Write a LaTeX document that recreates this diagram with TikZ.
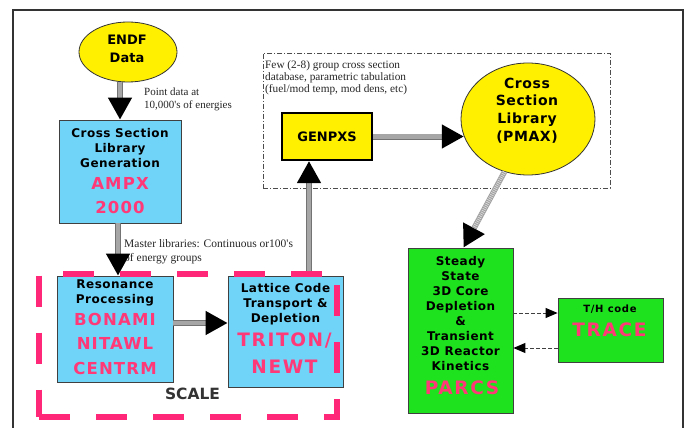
\documentclass[tikz,border=0pt]{standalone}
\usepackage{fontspec}
\setmainfont{DejaVu Sans}
\newfontfamily\boxfont{DejaVu Sans}[LetterSpace=4]
\newfontfamily\pinkfont{DejaVu Sans}[LetterSpace=7]
\newfontfamily\pinkbigfont{DejaVu Sans}[LetterSpace=9]
\newfontfamily\serifont{Liberation Serif}
\usetikzlibrary{arrows.meta,shapes.geometric}
\definecolor{boxblue}{RGB}{112,212,248}
\definecolor{pinktxt}{RGB}{255,56,120}
\definecolor{pinkline}{RGB}{255,40,120}
\definecolor{boxgreen}{RGB}{30,226,30}
\definecolor{ellyellow}{RGB}{255,240,0}
\begin{document}
\begin{tikzpicture}[x=1pt,y=-1pt,
  bbox/.style={draw=black!75, line width=0.8pt, fill=boxblue, inner sep=0pt},
  gbox/.style={draw=black!75, line width=0.8pt, fill=boxgreen, inner sep=0pt},
  yell/.style={ellipse, draw=black!80, line width=0.8pt, fill=ellyellow, inner sep=0pt},
  blacktxt/.style={font=\boxfont\bfseries\fontsize{12}{15}\selectfont, align=center, inner sep=0pt, anchor=north},
  pinkblk/.style={font=\pinkfont\bfseries\fontsize{16.5}{24.3}\selectfont, text=pinktxt, align=center, inner sep=0pt, anchor=north},
  pinkbig/.style={font=\pinkbigfont\bfseries\fontsize{18.5}{27}\selectfont, text=pinktxt, align=center, inner sep=0pt, anchor=north},
  lbl/.style={font=\serifont\fontsize{11}{13}\selectfont, align=left, inner sep=0pt, anchor=north west, text=black!85},
  bigarrow/.style={line width=4.5pt, draw=gray!70,
     preaction={draw=black!55, line width=6pt, shorten >=14pt, arrows=-},
     -{Triangle[length=22pt,width=23pt,color=black]}},
  hatcharrow/.style={line width=5.5pt, draw=gray!75,
     postaction={draw=white!70!gray, line width=4pt, dash pattern=on 0.8pt off 1.2pt, shorten >=22pt, arrows=-},
     -{Triangle[length=22pt,width=23pt,color=black]}},
  dasharrow/.style={line width=0.9pt, draw=black!75, dash pattern=on 3.5pt off 2.5pt,
     -{Triangle[length=12pt,width=10pt,color=black]}}
]
\useasboundingbox (0,0) rectangle (691,428);
\fill[white] (0,0) rectangle (691,428);
% outer frame
\draw[line width=1.2pt, draw=black!80] (13,430) -- (13,10) -- (683,10) -- (683,430);

% dash-dot region
\node[draw=black!70, line width=0.8pt, dash pattern=on 5pt off 2pt on 1pt off 2pt,
      minimum width=347pt, minimum height=135pt, inner sep=0pt] (db) at (436.5,120.5) {};
\node[lbl, font=\serifont\fontsize{11.3}{12}\selectfont] (few) at (265,60.5)
  {Few (2-8) group cross section\\database, parametric tabulation\\(fuel/mod temp, mod dens, etc)};

% nodes
\node[yell, minimum width=98pt, minimum height=60pt] (endf) at (128,52) {};
\node[blacktxt, font=\bfseries\fontsize{13}{17.5}\selectfont] (endft) at (127,35.2) {ENDF\\Data};

\node[bbox, minimum width=122pt, minimum height=103pt] (csl) at (120,171.5) {};
\node[blacktxt] (cslt) at (120,128.2) {Cross Section\\Library\\Generation};
\node[pinkblk, font=\pinkfont\bfseries\fontsize{16.5}{24}\selectfont] (cslp) at (120,177) {AMPX\\2000};

\node[bbox, minimum width=116pt, minimum height=106pt] (res) at (115,329) {};
\node[blacktxt] (rest) at (115,279.2) {Resonance\\Processing};
\node[pinkblk] (resp) at (115,313) {BONAMI\\NITAWL\\CENTRM};

\node[bbox, minimum width=115pt, minimum height=111pt] (lat) at (285.5,331.5) {};
\node[blacktxt] (latt) at (285.5,283.2) {Lattice Code\\Transport \&\\Depletion};
\node[pinkbig] (latp) at (284.5,332.5) {TRITON/\\NEWT};

\node[draw=black, line width=2.2pt, fill=ellyellow, minimum width=90pt, minimum height=47pt,
      inner sep=0pt, font=\bfseries\fontsize{13}{15}\selectfont] (gen) at (327,136.5) {GENPXS};

\node[yell, minimum width=134pt, minimum height=112pt] (pmax) at (528,119) {};
\node[blacktxt, font=\boxfont\bfseries\fontsize{14}{17.7}\selectfont] (pmaxt) at (527,77.7) {Cross\\Section\\Library\\(PMAX)};

\node[gbox, minimum width=105pt, minimum height=165pt] (parcs) at (460.5,330.5) {};
\node[blacktxt] (parcst) at (460.5,256.2) {Steady\\State\\3D Core\\Depletion\\\&\\Transient\\3D Reactor\\Kinetics};
\node[pinkbig] (parcsp) at (462,381) {PARCS};

\node[gbox, minimum width=105pt, minimum height=64pt] (trace) at (610.5,330) {};
\node[blacktxt, font=\pinkfont\bfseries\fontsize{10}{12}\selectfont] (tracet) at (610,305) {T/H code};
\node[pinkbig] (tracep) at (609.5,323) {TRACE};

% labels
\node[lbl] (pd) at (144,87.5) {Point data at\\10,000's of energies};
\node[lbl, font=\serifont\fontsize{11.5}{14}\selectfont] (ml) at (124,239.5) {Master libraries: Continuous or100's\\of energy groups};

\node[font=\bfseries\fontsize{15.5}{18}\selectfont, text=black!80, inner sep=0pt,
      text height=0.73em, text depth=0pt] (scl) at (192.5,396) {SCALE};

% connectors
\draw[bigarrow] (csl.north |- endf.south) -- (csl.north);
\coordinate (a2) at (118,223);
\draw[bigarrow] (a2 |- csl.south) -- (a2 |- res.north);
\coordinate (a3) at ([yshift=6pt]res.east);
\draw[bigarrow] (a3) -- (a3 -| lat.west);
\coordinate (a4) at (309,276);
\draw[bigarrow] (a4 |- lat.north) -- (a4 |- gen.south);
\draw[bigarrow] (gen.east) -- (gen.east -| pmax.195);
\coordinate (a6) at ([xshift=3pt]parcs.north);
\draw[hatcharrow] (pmax.246) -- (a6);
\coordinate (d1) at ([yshift=17pt]trace.west);
\draw[dasharrow] (d1 -| parcs.east) -- (d1);
\coordinate (d2) at ([yshift=-18pt]trace.west);
\draw[dasharrow] (d2) -- (d2 -| parcs.east);

% SCALE group outline
\node[draw=pinkline, line width=6pt, dash pattern=on 31pt off 26pt,
      minimum width=298pt, minimum height=143pt, inner sep=0pt] (scalebox) at (188,345) {};
\end{tikzpicture}
\end{document}
